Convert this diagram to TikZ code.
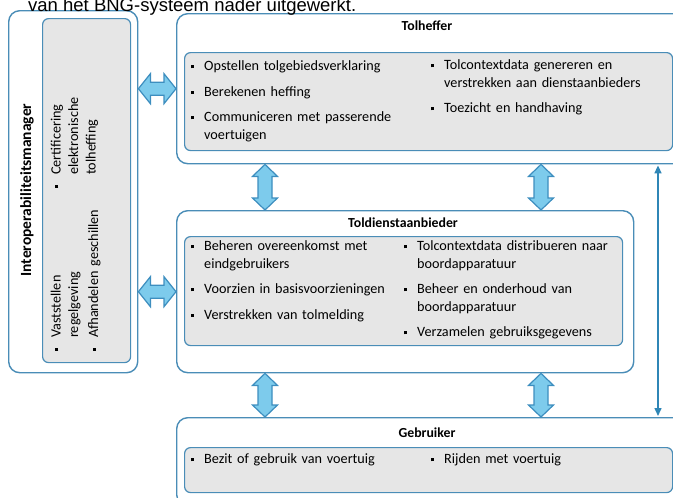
\documentclass[tikz,border=0pt]{standalone}
\usepackage{fontspec}
\setmainfont{Carlito}
\newfontfamily\capfont{Liberation Sans}
\usetikzlibrary{calc, arrows.meta}
\definecolor{bngBorder}{HTML}{4A8DB7}
\definecolor{bngFill}{HTML}{E6E6E6}
\definecolor{bngArrow}{HTML}{7DCBEC}
\definecolor{bngArrowLine}{HTML}{3D8EBF}
\definecolor{bngLine}{HTML}{2F86B6}

% opsommingstekens
\newcommand{\bul}{\makebox[13.5pt][l]{\rule[2.4pt]{3pt}{3pt}}}
\newcommand{\itm}[1]{\hangindent=13.5pt\hangafter=1\noindent\bul\strut #1\par}
\newcommand{\gap}{\vspace{8pt}}
\newcommand{\smallgap}{\vspace{2.5pt}}
% dikke dubbele pijlen
\newcommand{\fatH}[2]{\draw[fatarrow] (#1) -- ++(12,-15) -- ++(0,8.5) -- ($(#2)+(-12,-6.5)$) -- ++(0,-8.5) -- (#2) -- ++(-12,15) -- ++(0,-8.5) -- ($(#1)+(12,6.5)$) -- ++(0,8.5) -- cycle;}
\newcommand{\fatV}[2]{\draw[fatarrow] (#1) -- ++(-12.5,12) -- ++(5.5,0) -- ($(#2)+(-7,-12)$) -- ++(-5.5,0) -- (#2) -- ++(12.5,-12) -- ++(-5.5,0) -- ($(#1)+(7,12)$) -- ++(5.5,0) -- cycle;}

\tikzset{
  outerbox/.style={draw=bngBorder, line width=1.4pt, rounded corners=11pt, fill=white, inner sep=0pt, anchor=north west},
  innerbox/.style={draw=bngBorder, line width=1.2pt, rounded corners=6pt, fill=bngFill, inner sep=0pt, anchor=north west},
  boxtitle/.style={font=\fontsize{13.8}{15}\selectfont\bfseries},
  itemlist/.style={font=\fontsize{14.2}{17.5}\selectfont, inner sep=0pt, anchor=north west, text width=240pt, align=left},
  fatarrow/.style={draw=bngArrowLine, fill=bngArrow, line width=1.2pt, line join=miter},
  thinarrow/.style={bngLine, line width=1.5pt, {Triangle[length=8pt,width=7pt]}-{Triangle[length=8pt,width=7pt]}}
}

\begin{document}
\begin{tikzpicture}[x=1pt, y=-1pt]
  \useasboundingbox (0,0) rectangle (673,498);
  % interoperabiliteitsmanager
  \node[outerbox, minimum width=129pt, minimum height=362pt] (im) at (8,10) {};
  \node[innerbox, minimum width=88pt, minimum height=344pt] (imin) at (42,18) {};
  \node[boxtitle, rotate=90, font=\fontsize{15.5}{17}\selectfont\bfseries] (imT) at (27,190) {Interoperabiliteitsmanager};
  \node[itemlist, rotate=90, text width=170pt] (imA) at (48.25,351.5)
    {\itm{Vaststellen\newline regelgeving}\smallgap\itm{Afhandelen geschillen}};
  \node[itemlist, rotate=90, text width=150pt] (imB) at (48.25,188.5)
    {\itm{Certificering\newline elektronische\newline tolheffing}};
  % tolheffer
  \node[outerbox, minimum width=516pt, minimum height=150pt] (th) at (176,13) {};
  \node[innerbox, minimum width=488pt, minimum height=98pt] (thin) at (184,52) {};
  \node[boxtitle] (thT) at (427,26) {Tolheffer};
  \node[itemlist] (thL) at (190.5,58.25)
    {\itm{Opstellen tolgebiedsverklaring}\gap\itm{Berekenen heffing}\gap\itm{Communiceren met passerende\newline voertuigen}};
  \node[itemlist] (thR) at (430.5,57.25)
    {\itm{Tolcontextdata genereren en\newline verstrekken aan dienstaanbieders}\gap\itm{Toezicht en handhaving}};
  % toldienstaanbieder
  \node[outerbox, minimum width=457pt, minimum height=162pt] (td) at (176,210) {};
  \node[innerbox, minimum width=438pt, minimum height=109pt] (tdin) at (184,236) {};
  \node[boxtitle] (tdT) at (403,223) {Toldienstaanbieder};
  \node[itemlist] (tdL) at (190.5,238.25)
    {\itm{Beheren overeenkomst met\newline eindgebruikers}\gap\itm{Voorzien in basisvoorzieningen}\gap\itm{Verstrekken van tolmelding}};
  \node[itemlist] (tdR) at (403.5,238.25)
    {\itm{Tolcontextdata distribueren naar\newline boordapparatuur}\gap\itm{Beheer en onderhoud van\newline boordapparatuur}\gap\itm{Verzamelen gebruiksgegevens}};
  % gebruiker
  \node[outerbox, minimum width=516pt, minimum height=88pt] (gb) at (176,417) {};
  \node[innerbox, minimum width=488pt, minimum height=45pt] (gbin) at (184,447) {};
  \node[boxtitle] (gbT) at (427,433) {Gebruiker};
  \node[itemlist] (gbL) at (190.5,451.25) {\itm{Bezit of gebruik van voertuig}};
  \node[itemlist] (gbR) at (430.5,451.25) {\itm{Rijden met voertuig}};
  % pijlen
  \coordinate (h1a) at (im.east |- th.west);
  \coordinate (h2a) at (im.east |- td.west);
  \fatH{h1a}{th.west}
  \fatH{h2a}{td.west}
  \coordinate (v1a) at ($(th.south west)+(89,0)$);
  \coordinate (v1b) at ($(td.north west)+(89,0)$);
  \coordinate (v2a) at ($(th.south west)+(365,0)$);
  \coordinate (v2b) at ($(td.north west)+(365,0)$);
  \coordinate (v3a) at ($(td.south west)+(89,0)$);
  \coordinate (v3b) at ($(gb.north west)+(89,0)$);
  \coordinate (v4a) at ($(td.south west)+(365,0)$);
  \coordinate (v4b) at ($(gb.north west)+(365,0)$);
  \fatV{v1a}{v1b}
  \fatV{v2a}{v2b}
  \fatV{v3a}{v3b}
  \fatV{v4a}{v4b}
  \coordinate (ta) at ($(th.south west)+(482,1)$);
  \coordinate (tb) at ($(gb.north west)+(482,-1)$);
  \draw[thinarrow] (ta) -- (tb);
  % bijschrift
  \node[anchor=base west, inner sep=0pt, font=\capfont\fontsize{18.5}{20}\selectfont] (cap) at (28,11.5) {van het BNG-systeem nader uitgewerkt.};
\end{tikzpicture}
\end{document}
